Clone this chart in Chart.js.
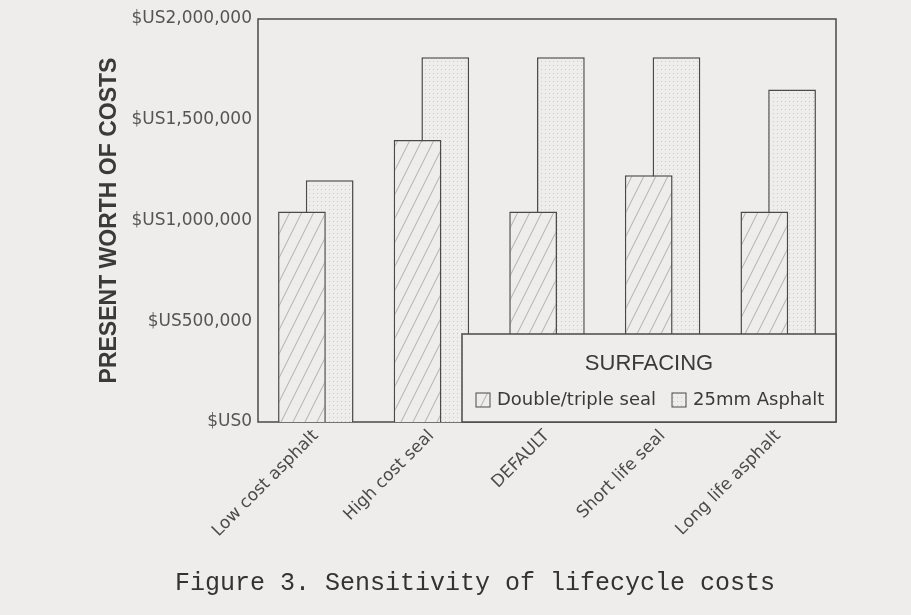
<!DOCTYPE html>
<html>
<head>
<meta charset="utf-8">
<style>
  html, body { margin: 0; padding: 0; background: #efedec; }
</style>
<script src="https://cdn.jsdelivr.net/npm/chart.js@4.4.0/dist/chart.umd.min.js"></script>
</head>
<body>
<canvas id="myChart" width="911" height="615"></canvas>
<script>
var categories = ['Low cost asphalt', 'High cost seal', 'DEFAULT', 'Short life seal', 'Long life asphalt'];
var sealValues = [1045000, 1400000, 1045000, 1225000, 1045000];
var asphaltValues = [1200000, 1810000, 1810000, 1810000, 1650000];
var seriesLabels = ['Double/triple seal', '25mm Asphalt'];
var yTicks = [0, 500000, 1000000, 1500000, 2000000];
var legendTitle = 'SURFACING';
var yTitle = 'PRESENT WORTH OF COSTS';
var caption = 'Figure 3. Sensitivity of lifecycle costs';

var paper = '#efedec';
var ink = '#4a4a4a';

// diagonal hatch for the seal bars
function hatch() {
  var c = document.createElement('canvas');
  c.width = 12; c.height = 24;
  var g = c.getContext('2d');
  g.fillStyle = paper;
  g.fillRect(0, 0, 12, 24);
  g.strokeStyle = 'rgba(80,80,80,0.45)';
  g.lineWidth = 0.9;
  g.beginPath();
  g.moveTo(0, 24); g.lineTo(12, 0);
  g.moveTo(-12, 24); g.lineTo(0, 0);
  g.moveTo(12, 24); g.lineTo(24, 0);
  g.stroke();
  return g.createPattern(c, 'repeat');
}

// fine dot screen for the asphalt bars
function dots() {
  var c = document.createElement('canvas');
  c.width = 4; c.height = 4;
  var g = c.getContext('2d');
  g.fillStyle = paper;
  g.fillRect(0, 0, 4, 4);
  g.fillStyle = 'rgba(120,120,120,0.3)';
  g.fillRect(1, 1, 1, 1);
  return g.createPattern(c, 'repeat');
}

var framePlugin = {
  id: 'frame',
  beforeDatasetsDraw: function (chart) {
    var a = chart.chartArea, c = chart.ctx;
    c.save();
    c.strokeStyle = ink;
    c.lineWidth = 1.5;
    c.strokeRect(a.left, a.top, a.right - a.left, a.bottom - a.top);
    c.restore();
  }
};

var legendPlugin = {
  id: 'boxLegend',
  afterDatasetsDraw: function (chart) {
    var a = chart.chartArea, c = chart.ctx;
    var left = 462, top = 334;
    c.save();
    c.fillStyle = paper;
    c.fillRect(left, top, a.right - left, a.bottom - top);
    c.strokeStyle = ink;
    c.lineWidth = 1.5;
    c.strokeRect(left, top, a.right - left, a.bottom - top);

    c.fillStyle = '#3a3a3a';
    c.font = '22px "Liberation Sans"';
    c.textAlign = 'center';
    c.textBaseline = 'middle';
    c.fillText(legendTitle, (left + a.right) / 2, 364);

    c.font = '18px "DejaVu Sans"';
    c.textAlign = 'left';
    var x = 476, y = 400;
    chart.data.datasets.forEach(function (ds) {
      c.fillStyle = ds.backgroundColor;
      c.fillRect(x, y - 7, 14, 14);
      c.strokeStyle = ink;
      c.lineWidth = 1;
      c.strokeRect(x, y - 7, 14, 14);
      c.fillStyle = '#3a3a3a';
      c.fillText(ds.label, x + 21, y);
      x += 21 + c.measureText(ds.label).width + 16;
    });
    c.restore();
  }
};

var captionPlugin = {
  id: 'caption',
  afterDraw: function (chart) {
    var c = chart.ctx;
    c.save();
    c.fillStyle = '#333';
    c.font = '25px "Liberation Mono"';
    c.textAlign = 'center';
    c.textBaseline = 'middle';
    c.fillText(caption, 475, 583);
    c.restore();
  }
};

var ctx = document.getElementById('myChart').getContext('2d');
var chart = new Chart(ctx, {
  type: 'bar',
  data: {
    labels: categories,
    datasets: [
      {
        label: seriesLabels[0],
        data: sealValues,
        backgroundColor: hatch(),
        borderColor: ink,
        borderWidth: 1.5
      },
      {
        label: seriesLabels[1],
        data: asphaltValues,
        backgroundColor: dots(),
        borderColor: ink,
        borderWidth: 1.5
      }
    ]
  },
  options: {
    responsive: false,
    animation: false,
    categoryPercentage: 0.48,
    barPercentage: 1.72,
    layout: { padding: { top: 19, right: 75, left: 0, bottom: 0 } },
    plugins: {
      legend: { display: false },
      tooltip: { enabled: false }
    },
    scales: {
      x: {
        grid: { display: false, drawTicks: false },
        border: { display: false },
        ticks: {
          autoSkip: false,
          maxRotation: 45,
          minRotation: 45,
          padding: 4,
          color: ink,
          font: { family: 'DejaVu Sans', size: 17 }
        },
        afterFit: function (s) { s.height = 193; }
      },
      y: {
        min: 0,
        max: 2000000,
        afterBuildTicks: function (s) {
          s.ticks = yTicks.map(function (v) { return { value: v }; });
        },
        grid: { display: false, drawTicks: false },
        border: { display: false },
        ticks: {
          padding: 6,
          color: '#555',
          font: { family: 'DejaVu Sans', size: 17 },
          callback: function (v) { return '$US' + Number(v).toLocaleString('en-US'); }
        },
        title: {
          display: true,
          text: yTitle,
          color: '#3a3a3a',
          font: { family: 'Liberation Sans', size: 23, weight: 'bold' },
          padding: { top: 96, bottom: 0 }
        },
        afterFit: function (s) { s.width = 258; }
      }
    }
  },
  plugins: [framePlugin, legendPlugin, captionPlugin]
});
</script>
</body>
</html>
